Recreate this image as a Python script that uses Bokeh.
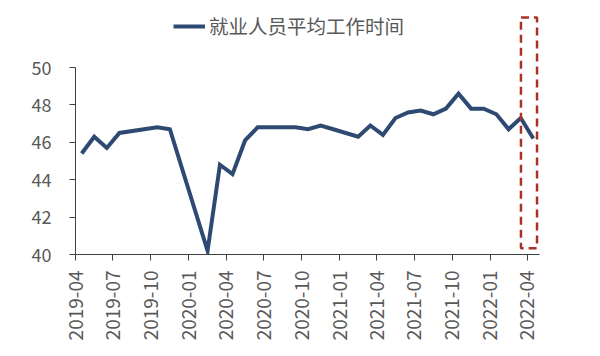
from datetime import datetime, timedelta
import calendar
from math import pi

from bokeh.plotting import figure
from bokeh.models import (Range1d, FixedTicker, DatetimeTickFormatter,
                          BoxAnnotation, ColumnDataSource)
from bokeh.embed import file_html
from bokeh.resources import INLINE

# ---------------- data ----------------
series_name = "就业人员平均工作时间"
months = ["2019-04", "2019-05", "2019-06", "2019-07", "2019-10", "2019-11",
          "2020-02", "2020-03", "2020-04", "2020-05", "2020-06", "2020-07",
          "2020-08", "2020-09", "2020-10", "2020-11", "2020-12",
          "2021-02", "2021-03", "2021-04", "2021-05", "2021-06", "2021-07",
          "2021-08", "2021-09", "2021-10", "2021-11", "2021-12",
          "2022-01", "2022-02", "2022-03", "2022-04"]
hours = [45.4, 46.3, 45.7, 46.5, 46.8, 46.7,
         40.2, 44.8, 44.3, 46.1, 46.8, 46.8,
         46.8, 46.8, 46.7, 46.9, 46.7,
         46.3, 46.9, 46.4, 47.3, 47.6, 47.7,
         47.5, 47.8, 48.6, 47.8, 47.8,
         47.5, 46.7, 47.3, 46.2]
tick_months = ["2019-04", "2019-07", "2019-10", "2020-01", "2020-04", "2020-07",
               "2020-10", "2021-01", "2021-04", "2021-07", "2021-10", "2022-01",
               "2022-04"]
y_ticks = [40, 42, 44, 46, 48, 50]
x_start, x_end = "2019-04", "2022-05"
highlight_left = datetime(2022, 3, 17)
highlight_right = datetime(2022, 4, 25)
highlight_bottom, highlight_top = 40.34, 52.67


def month_start(s):
    y, m = map(int, s.split("-"))
    return datetime(y, m, 1)


def mid_month(s):
    y, m = map(int, s.split("-"))
    days = calendar.monthrange(y, m)[1]
    return datetime(y, m, 1) + timedelta(days=days / 2)


def ms(dt):
    return (dt - datetime(1970, 1, 1)).total_seconds() * 1000.0


src = ColumnDataSource(dict(x=[mid_month(m) for m in months], y=hours))

FONT = "Noto Sans CJK SC"
GREY = "#595959"

p = figure(width=600, height=356, output_backend="svg", toolbar_location=None,
           x_axis_type="datetime",
           x_range=Range1d(month_start(x_start), month_start(x_end)),
           y_range=Range1d(40, 53.05),
           min_border_left=75, min_border_right=61,
           min_border_top=10, min_border_bottom=102)
p.outline_line_color = None
p.xgrid.grid_line_color = None
p.ygrid.grid_line_color = None
p.background_fill_color = "white"
p.border_fill_color = "white"

r = p.line("x", "y", source=src, line_color="#2E4A72", line_width=4,
           line_join="miter", legend_label=series_name)

box = BoxAnnotation(left=ms(highlight_left), right=ms(highlight_right),
                    bottom=highlight_bottom, top=highlight_top,
                    fill_alpha=0, line_color="#A93226", line_alpha=1.0,
                    line_width=2.5, line_dash="8 5")
p.add_layout(box)

# x axis
xa = p.xaxis[0]
xa.ticker = FixedTicker(ticks=[ms(month_start(t)) for t in tick_months])
fmt = "%Y-%m"
xa.formatter = DatetimeTickFormatter(microseconds=fmt, milliseconds=fmt, seconds=fmt,
                                     minsec=fmt, minutes=fmt, hourmin=fmt, hours=fmt,
                                     days=fmt, months=fmt, years=fmt)
xa.major_label_orientation = pi / 2
xa.major_label_text_font = FONT
xa.major_label_text_font_size = "19px"
xa.major_label_text_color = GREY
xa.major_label_standoff = 10
xa.major_tick_in = 0
xa.major_tick_out = 6
xa.minor_tick_line_color = None
xa.axis_line_color = "#404040"
xa.major_tick_line_color = "#404040"

# y axis
ya = p.yaxis[0]
ya.ticker = FixedTicker(ticks=y_ticks)
ya.bounds = (40, 50)
ya.major_label_text_font = FONT
ya.major_label_text_font_size = "18px"
ya.major_label_text_color = GREY
ya.major_label_standoff = 18
ya.major_tick_in = 0
ya.major_tick_out = 6
ya.minor_tick_line_color = None
ya.axis_line_color = "#404040"
ya.major_tick_line_color = "#404040"

# legend
lg = p.legend[0]
lg.location = (98, 214)
lg.border_line_color = None
lg.background_fill_alpha = 0
lg.padding = 0
lg.margin = 0
lg.glyph_width = 32
lg.glyph_height = 20
lg.label_standoff = 4
lg.label_text_font = FONT
lg.label_text_font_size = "19.5px"
lg.label_text_color = GREY

open("out.html", "w").write(file_html(p, INLINE))
